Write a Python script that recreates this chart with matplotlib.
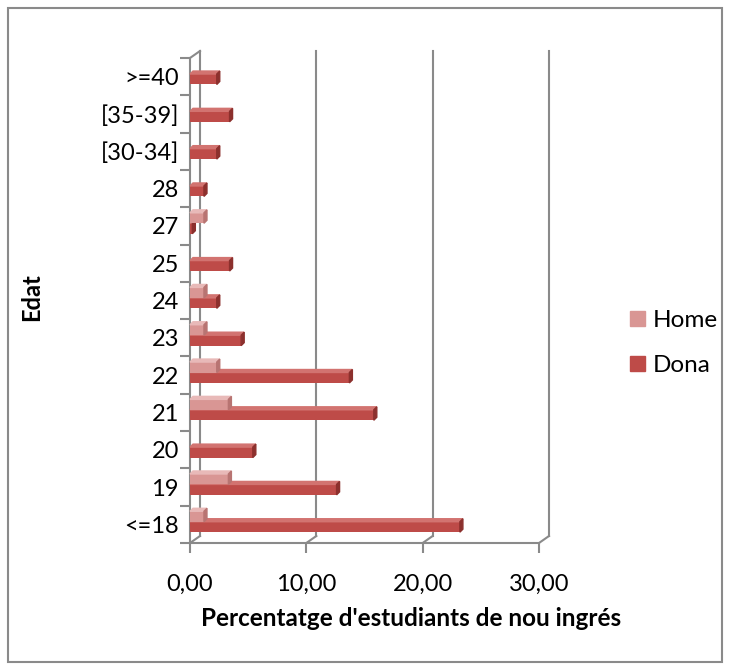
import numpy as np
import matplotlib.pyplot as plt
from matplotlib.patches import Polygon, Rectangle, Patch

plt.rcParams['font.family'] = ['Lato', 'DejaVu Sans']

# dades (llegides del grafic)
edats = ['<=18', '19', '20', '21', '22', '23', '24', '25', '27', '28',
         '[30-34]', '[35-39]', '>=40']
home = [1.2, 3.3, 0.0, 3.3, 2.3, 1.2, 1.2, 0.0, 1.2, 0.0, 0.0, 0.0, 0.0]
dona = [23.2, 12.6, 5.4, 15.8, 13.7, 4.4, 2.3, 3.4, 0.2, 1.2, 2.3, 3.4, 2.3]
xticks = [0, 10, 20, 30]
xticklabels = ['0,00', '10,00', '20,00', '30,00']
series = ['Home', 'Dona']

W, H = 731, 670
gray = '#8a8a8a'
c_home = ('#D99694', '#E8B9B8', '#B87472')   # front, top, side
c_dona = ('#BE4B48', '#D27370', '#8C302D')

fig = plt.figure(figsize=(W / 100, H / 100), dpi=100)
fig.patches.append(Rectangle((8 / W, 8 / H), 714 / W, 654 / H, transform=fig.transFigure,
                             fill=False, edgecolor=gray, lw=1.5))

ax = fig.add_axes([190 / W, 1 - 543 / H, 349 / W, 485 / H])
ax.set_xlim(0, 30)
ax.set_ylim(-0.5, len(edats) - 0.5)
ymin, ymax = ax.get_ylim()

# pixels -> data units
pxx = 349 / 30
pxy = 485 / len(edats)
def dxd(p): return p / pxx
def dyd(p): return p / pxy

# back wall / 3d frame
DX, DY = dxd(10), dyd(7)
for xv in xticks:
    ax.plot([xv + DX, xv + DX], [ymin + DY, ymax + DY], color=gray, lw=1.5, clip_on=False, zorder=1)
    ax.plot([xv, xv + DX], [ymin, ymin + DY], color=gray, lw=1.5, clip_on=False, zorder=1)
ax.plot([0, DX], [ymax, ymax + DY], color=gray, lw=1.5, clip_on=False, zorder=1)

y = np.arange(len(edats))
h = 0.28
bx, by = dxd(3), dyd(3)

def bars3d(vals, yc, cols):
    ax.barh(yc, vals, height=h, color=cols[0], zorder=3)
    for v, c in zip(vals, yc):
        if v <= 0:
            continue
        yb, yt = c - h / 2, c + h / 2
        ax.add_patch(Polygon([(0, yt), (v, yt), (v + bx, yt + by), (bx, yt + by)],
                             closed=True, color=cols[1], zorder=3, clip_on=False))
        ax.add_patch(Polygon([(v, yb), (v + bx, yb + by), (v + bx, yt + by), (v, yt)],
                             closed=True, color=cols[2], zorder=3, clip_on=False))

bars3d(dona, y - 0.07, c_dona)
bars3d(home, y + 0.21, c_home)

for s in ['top', 'right']:
    ax.spines[s].set_visible(False)
for s in ['left', 'bottom']:
    ax.spines[s].set_color(gray)
    ax.spines[s].set_linewidth(1.5)
    ax.spines[s].set_zorder(2)

ax.set_yticks(y)
ax.set_yticklabels(edats, fontsize=17)
ax.set_yticks(np.arange(len(edats) + 1) - 0.5, minor=True)
ax.tick_params(axis='y', which='major', length=0, pad=8)
ax.tick_params(axis='y', which='minor', length=7, width=1.5, color=gray)
ax.set_xticks(xticks)
ax.set_xticklabels(xticklabels, fontsize=17)
ax.tick_params(axis='x', length=7, width=1.5, color=gray, pad=15)
ax.patch.set_alpha(0)

fig.text(32 / W, 1 - 297 / H, 'Edat', rotation=90, ha='center', va='center',
         fontsize=17, fontweight='bold')
fig.text(411 / W, 1 - 619 / H, "Percentatge d'estudiants de nou ingrés",
         ha='center', va='center', fontsize=17.5, fontweight='bold')

handles = [Patch(color=c_home[0]), Patch(color=c_dona[0])]
fig.legend(handles, series, loc='center left', bbox_to_anchor=(630 / W, 1 - 343 / H),
           frameon=False, fontsize=17.5, handlelength=0.6, handleheight=0.6,
           handletextpad=0.35, labelspacing=1.0, borderpad=0, borderaxespad=0)

fig.savefig('out.png', dpi=100)
